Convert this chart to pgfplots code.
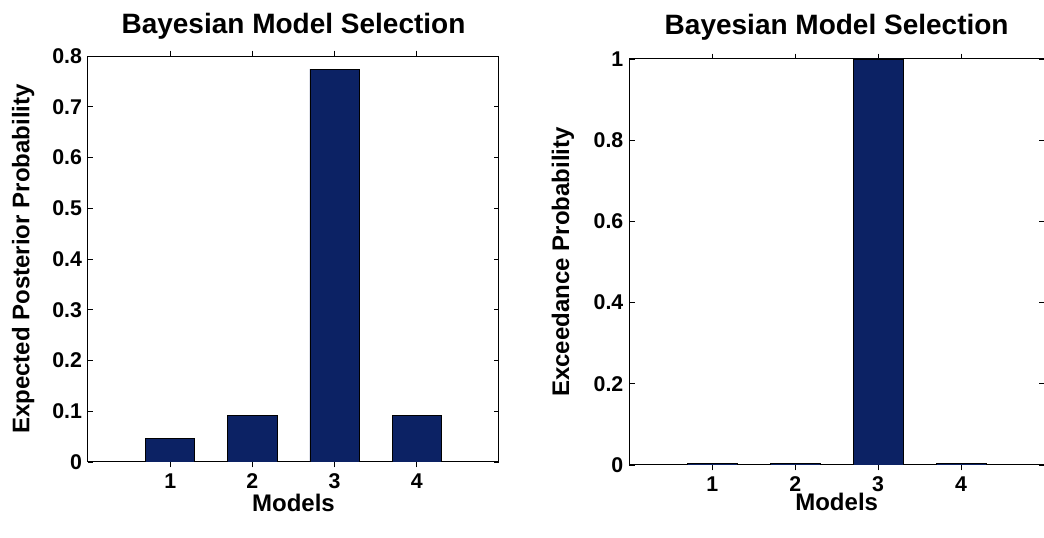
\documentclass[border=0pt]{standalone}
\usepackage{pgfplots}
\pgfplotsset{compat=1.18}
\usepackage{fontspec}
\setmainfont{Liberation Sans}
\definecolor{barblue}{RGB}{12,34,100}
\pgfplotsset{
  matlab/.style={
    scale only axis,
    height=304.5pt,
    xmin=0, xmax=5,
    ymin=0,
    xtick={1,2,3,4},
    tick align=inside,
    tick pos=both,
    major tick length=4pt,
    tick style={black, line width=0.6pt},
    axis line style={black, line width=0.75pt},
    ybar,
    bar width=0.6,
    bar shift=0pt,
    tick label style={font=\fontsize{16}{18}\selectfont\bfseries},
    /pgf/number format/assume math mode=true,
    yticklabel style={/pgf/number format/fixed, /pgf/number format/precision=1, xshift=-1pt},
    xticklabel style={yshift=-1pt},
    every axis title shift=0pt,
    title style={font=\fontsize{21}{23}\selectfont\bfseries, anchor=center, yshift=0pt},
    every axis y label/.style={rotate=90, anchor=center, font=\fontsize{18}{20}\selectfont\bfseries},
    every axis x label/.style={anchor=center, font=\fontsize{18}{20}\selectfont\bfseries},
  }
}
\begin{document}
\begin{tikzpicture}
\useasboundingbox (0,0) rectangle (783pt,403.5pt);
\begin{axis}[matlab,
  at={(66pt,57pt)}, anchor=south west,
  width=308.25pt,
  ymax=0.8,
  ytick={0,0.1,0.2,0.3,0.4,0.5,0.6,0.7,0.8},
  title={Bayesian Model Selection},
  title style={at={(axis description cs:0.5,1.073)}},
  xlabel={Models},
  xlabel style={at={(axis description cs:0.5,-0.1)}},
  ylabel={Expected Posterior Probability},
  ylabel style={at={(axis description cs:-0.158,0.5)}},
]
\addplot[fill=barblue, draw=black, line width=0.6pt] coordinates {(1,0.047) (2,0.091) (3,0.774) (4,0.091)};
\end{axis}
\begin{axis}[matlab,
  at={(472pt,54.75pt)}, anchor=south west,
  width=311pt,
  ymax=1,
  ytick={0,0.2,0.4,0.6,0.8,1},
  title={Bayesian Model Selection},
  title style={at={(axis description cs:0.5,1.078)}},
  xlabel={Models},
  xlabel style={at={(axis description cs:0.5,-0.092)}},
  ylabel={Exceedance Probability},
  ylabel style={at={(axis description cs:-0.16,0.5)}},
]
\addplot[fill=barblue, draw=black, line width=0.6pt] coordinates {(1,0.003) (2,0.003) (3,1) (4,0.003)};
\end{axis}
\end{tikzpicture}
\end{document}
